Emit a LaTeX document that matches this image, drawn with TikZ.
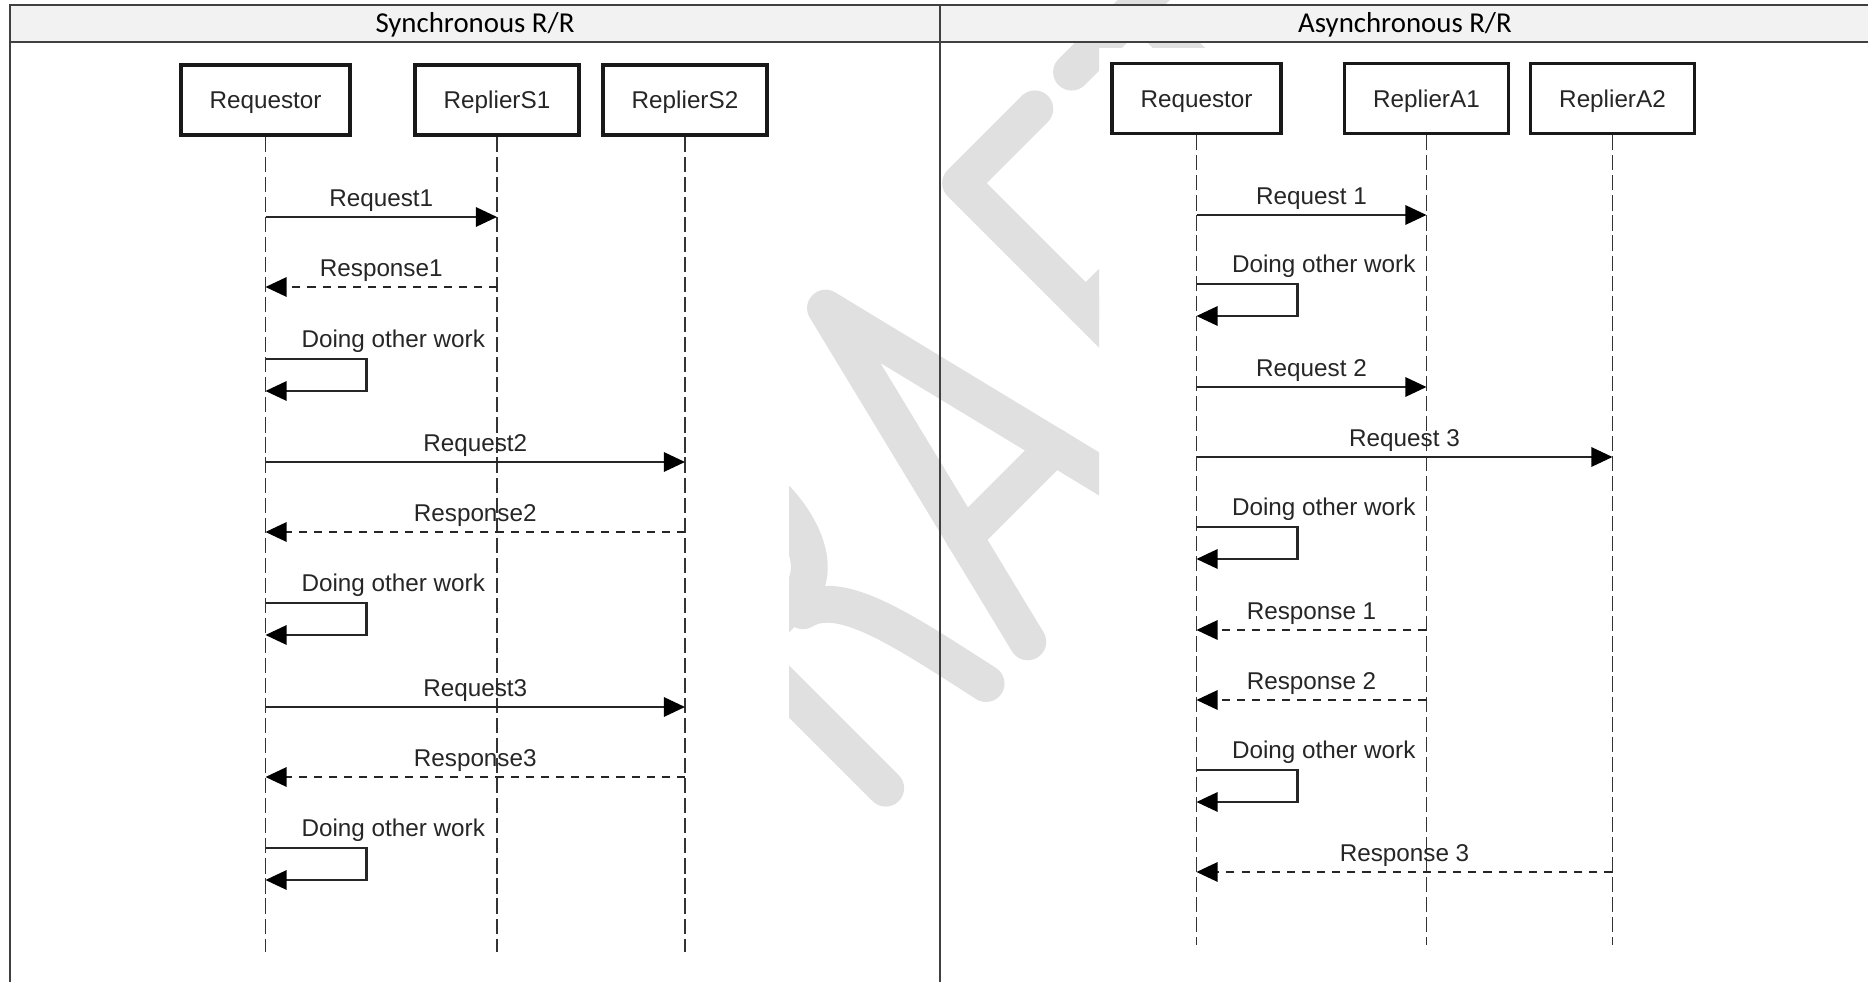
\documentclass[tikz,border=0pt]{standalone}
\usepackage{fontspec}
\setmainfont{Liberation Sans}
\newfontfamily\headfont{Carlito}
\usetikzlibrary{arrows.meta}

\tikzset{
	actor/.style = {draw = black!90, line width = 1pt, fill = white, minimum width = 1.64cm, minimum height = 0.7cm, inner sep = 0pt, text height = 5pt, text depth = 0pt, text = black!85, font = \fontsize{6.9}{8}\selectfont},
	lifeline/.style = {draw = black!80, line width = 0.55pt, dash pattern = on 4.3pt off 1.4pt},
	call/.style = {draw = black!85, line width = 0.6pt, -{Triangle[length = 6pt, width = 5.5pt, color = black, fill = black]}},
	reply/.style = {call, dash pattern = on 2.3pt off 2pt},
	msg/.style = {anchor = base, inner sep = 0pt, text = black!85, font = \fontsize{6.9}{8}\selectfont},
	head/.style = {anchor = base, inner sep = 0pt, font = \headfont\fontsize{8.2}{10}\selectfont},
	grid/.style = {draw = black!75, line width = 0.55pt},
	wm/.style = {draw = black!12, line width = 10.5pt, line cap = round, line join = round}
}

\begin{document}
\begin{tikzpicture}[x = 0.01cm, y = -0.01cm]
	\useasboundingbox (0,0) rectangle (1868,982);

	% watermark, seen only between the two pictures
	\begin{scope}
		\clip (789,0) rectangle (1099,982) (1099,0) rectangle (1868,48);
		\begin{scope}[x = {(0.00707cm,0.00707cm)}, y = {(0.00707cm,-0.00707cm)}]
			\draw [wm] (69,1184) -- (69,807) -- (140,807) .. controls (215,807) and (215,987) .. (140,987) -- (69,987);
			\draw [wm] (136,1000) .. controls (178,1010) and (192,1080) .. (214,1181);
			\draw [wm] (273,1181) -- (366,802) -- (459,1181);
			\draw [wm] (302,1062) -- (430,1062);
			\draw [wm] (550,1181) -- (550,809) -- (655,809);
			\draw [wm] (550,986) -- (640,986);
			\draw [wm] (707,809) -- (900,809);
			\draw [wm] (800,809) -- (800,1181);
		\end{scope}
	\end{scope}

	% table
	\fill [black!5] (10,5) rectangle (1870,42);
	\draw [grid] (10,990) -- (10,5) -- (1870,5);
	\draw [grid] (10,42) -- (1870,42);
	\draw [grid] (940,5) -- (940,990);
	\draw [grid] (1870,5) -- (1870,990);
	\node [head] (hsync) at (475,33) {Synchronous R/R};
	\node [head] (hasync) at (1405,33) {Asynchronous R/R};

	% synchronous
	\node [actor, minimum width = 1.69cm] (sreq) at (265.5,100) {Requestor};
	\node [actor] (srs1) at (497,100) {ReplierS1};
	\node [actor] (srs2) at (685,100) {ReplierS2};
	\foreach \n in {sreq,srs1,srs2}{
		\coordinate (\n-end) at (\n |- 0,952);
		\draw [lifeline] (\n) -- (\n-end);
	}
	\foreach \a/\b/\y/\t/\s in {sreq/srs1/217/Request1/call, srs1/sreq/287/Response1/reply, sreq/srs2/462/Request2/call, srs2/sreq/532/Response2/reply, sreq/srs2/707/Request3/call, srs2/sreq/777/Response3/reply}{
		\draw [\s] (\a |- 0,\y) -- node [msg, yshift = 0.1cm] {\t} (\b |- 0,\y);
	}
	\foreach \y in {359,603,848}{
		\draw [call] (sreq |- 0,\y) node [msg, anchor = base west, xshift = 0.35cm, yshift = 0.11cm] {Doing other work} -- ++(101,0) -- ++(0,32) -- (sreq |- 0,\y+32);
	}

	% asynchronous
	\node [actor, minimum width = 1.69cm] (areq) at (1196.5,98.5) {Requestor};
	\node [actor] (ara1) at (1426.5,98.5) {ReplierA1};
	\node [actor] (ara2) at (1612.5,98.5) {ReplierA2};
	\foreach \n in {areq,ara1,ara2}{
		\coordinate (\n-end) at (\n |- 0,945);
		\draw [lifeline] (\n) -- (\n-end);
	}
	\foreach \a/\b/\y/\t/\s in {areq/ara1/215/Request 1/call, areq/ara1/387/Request 2/call, areq/ara2/457/Request 3/call, ara1/areq/630/Response 1/reply, ara1/areq/700/Response 2/reply, ara2/areq/872/Response 3/reply}{
		\draw [\s] (\a |- 0,\y) -- node [msg, yshift = 0.1cm] {\t} (\b |- 0,\y);
	}
	\foreach \y in {284,527,770}{
		\draw [call] (areq |- 0,\y) node [msg, anchor = base west, xshift = 0.345cm, yshift = 0.11cm] {Doing other work} -- ++(101,0) -- ++(0,32) -- (areq |- 0,\y+32);
	}
\end{tikzpicture}
\end{document}
